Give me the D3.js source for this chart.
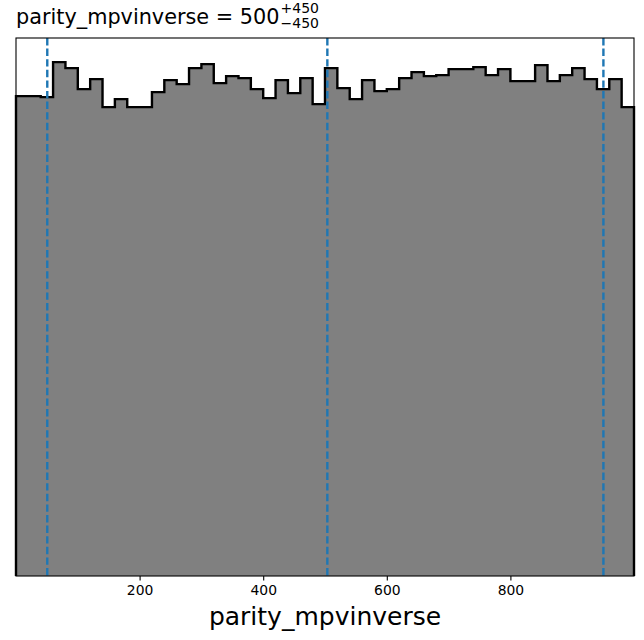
<!DOCTYPE html>
<html>
<head>
<meta charset="utf-8">
<script src="https://cdn.jsdelivr.net/npm/d3@7"></script>
<style>
  html, body { margin: 0; padding: 0; background: #fff; }
  svg { display: block; }
  text { font-family: "DejaVu Sans", sans-serif; }
</style>
</head>
<body>
<svg id="chart" width="644" height="640"></svg>
<script>
// ---- data ----
const paramName = "parity_mpvinverse";
const xDomain = [0, 1000];
const binCount = 50;
const counts = [480, 480, 479, 514, 508, 487, 497, 469, 477, 469,
                469, 484, 496, 492, 508, 512, 493, 500, 498, 487,
                478, 496, 483, 498, 472, 508, 488, 477, 496, 485,
                487, 498, 504, 500, 501, 507, 507, 509, 501, 507,
                495, 495, 511, 495, 501, 508, 497, 487, 497, 469];
const quantiles = [50.6, 503.8, 950.5];
const xTickValues = [200, 400, 600, 800];
const titleMain = "parity_mpvinverse = 500";
const titleSup = "+450";
const titleSub = "\u2212450";

// ---- layout ----
const svg = d3.select("#chart");
const L = 16, R = 634, T = 38, B = 576;

const x = d3.scaleLinear().domain(xDomain).range([L, R]);
const y = d3.scaleLinear().domain([0, d3.max(counts) * 1.047]).range([B, T]);

const binW = (xDomain[1] - xDomain[0]) / binCount;
const bins = counts.map((c, i) => ({x0: xDomain[0] + i * binW, x1: xDomain[0] + (i + 1) * binW, c}));

// step path points
const pts = [[bins[0].x0, 0]];
bins.forEach(b => { pts.push([b.x0, b.c]); pts.push([b.x1, b.c]); });
pts.push([bins[bins.length - 1].x1, 0]);

const line = d3.line().x(d => x(d[0])).y(d => y(d[1]));

const g = svg.append("g");
g.append("path")
  .attr("d", line(pts) + "Z")
  .attr("fill", "#808080")
  .attr("stroke", "none");

g.append("path")
  .attr("d", line(pts))
  .attr("fill", "none")
  .attr("stroke", "#000")
  .attr("stroke-width", 2.4)
  .attr("stroke-linejoin", "miter");

// quantile lines
g.selectAll("line.q").data(quantiles).enter().append("line")
  .attr("class", "q")
  .attr("x1", d => x(d)).attr("x2", d => x(d))
  .attr("y1", T).attr("y2", B)
  .attr("stroke", "#1f77b4")
  .attr("stroke-width", 2.4)
  .attr("stroke-dasharray", "7.4,3.2");

// x axis
const xAxis = d3.axisBottom(x).tickValues(xTickValues).tickSize(4.5).tickPadding(5);
const ax = svg.append("g").attr("transform", `translate(0,${B})`).call(xAxis);
ax.select(".domain").remove();
ax.selectAll(".tick line").attr("stroke", "#000").attr("stroke-width", 1.1);
ax.selectAll(".tick text").attr("font-size", "13.9px").attr("fill", "#000")
  .attr("font-family", "DejaVu Sans");

// frame
svg.append("rect")
  .attr("x", L).attr("y", T).attr("width", R - L).attr("height", B - T)
  .attr("fill", "none").attr("stroke", "#000").attr("stroke-width", 1.1);

// x label
svg.append("text")
  .attr("x", (L + R) / 2).attr("y", 625)
  .attr("text-anchor", "middle")
  .attr("font-size", "25px")
  .attr("fill", "#000")
  .text(paramName);

// title
const tMain = svg.append("text")
  .attr("x", 16).attr("y", 24)
  .attr("font-size", "20.8px")
  .attr("fill", "#000")
  .text(titleMain);
const w = tMain.node().getComputedTextLength();
svg.append("text")
  .attr("x", 16 + w + 1).attr("y", 13)
  .attr("font-size", "14px").attr("fill", "#000")
  .text(titleSup);
svg.append("text")
  .attr("x", 16 + w + 1).attr("y", 27.5)
  .attr("font-size", "14px").attr("fill", "#000")
  .text(titleSub);
</script>
</body>
</html>
